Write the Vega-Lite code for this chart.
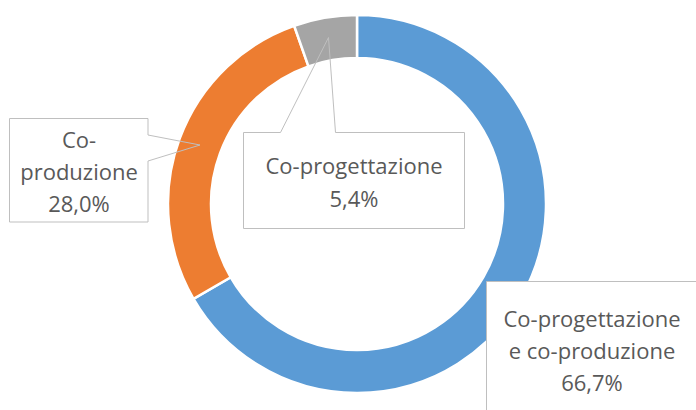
{
  "$schema": "https://vega.github.io/schema/vega-lite/v6.json",
  "width": 678,
  "height": 408,
  "autosize": {"type": "none"},
  "padding": {"left": 18, "top": 0, "right": 0, "bottom": 2},
  "background": "white",
  "config": {"view": {"stroke": null}},
  "data": {
    "values": [
      {"category": "Co-progettazione e co-produzione", "value": 66.7, "label": "Co-progettazione\ne co-produzione\n66,7%"},
      {"category": "Co-produzione", "value": 28.0, "label": "Co-\nproduzione\n28,0%"},
      {"category": "Co-progettazione", "value": 5.4, "label": "Co-progettazione\n5,4%"}
    ]
  },
  "layer": [
    {
      "mark": {"type": "arc", "outerRadius": 189, "innerRadius": 146, "stroke": "white", "strokeWidth": 2.5},
      "encoding": {
        "theta": {"field": "value", "type": "quantitative", "stack": true},
        "order": {"field": "value", "sort": "descending"},
        "color": {
          "field": "category",
          "type": "nominal",
          "scale": {
            "domain": ["Co-progettazione e co-produzione", "Co-produzione", "Co-progettazione"],
            "range": ["#5B9BD5", "#ED7D31", "#A5A5A5"]
          },
          "legend": null
        }
      }
    },
    {
      "mark": {"type": "point", "size": 4, "filled": true, "fill": "white", "strokeWidth": 0, "opacity": 1},
      "encoding": {
        "shape": {
          "field": "category",
          "type": "nominal",
          "scale": {
            "domain": ["Co-progettazione e co-produzione", "Co-produzione", "Co-progettazione"],
            "range": [
              "M129.5,77.5H360V220H129.5Z",
              "M-347.5,-85.5H-209V18H-347.5Z",
              "M-113.5,-71.5H107.5V24.5H-113.5Z"
            ]
          },
          "legend": null
        }
      }
    },
    {
      "mark": {"type": "point", "size": 4, "filled": false, "fill": null, "stroke": "#BFBFBF", "strokeWidth": 1, "opacity": 1},
      "encoding": {
        "shape": {
          "field": "category",
          "type": "nominal",
          "scale": {
            "domain": ["Co-progettazione e co-produzione", "Co-produzione", "Co-progettazione"],
            "range": [
              "M360,77.5H129.5V220",
              "M-347.5,-85.5H-209V-69L-157,-59L-209,-43V18H-347.5Z",
              "M-113.5,-71.5H-76.5L-28.5,-166.5L-21.5,-71.5H107.5V24.5H-113.5Z"
            ]
          },
          "legend": null
        }
      }
    },
    {
      "transform": [{"filter": "datum.category === 'Co-produzione'"}],
      "mark": {"type": "text", "font": "Open Sans", "fontSize": 22, "color": "#595959", "lineBreak": "\n", "lineHeight": 32, "align": "center", "baseline": "middle", "dx": -278, "dy": -63},
      "encoding": {"text": {"field": "label"}}
    },
    {
      "transform": [{"filter": "datum.category === 'Co-progettazione'"}],
      "mark": {"type": "text", "font": "Open Sans", "fontSize": 22, "color": "#595959", "lineBreak": "\n", "lineHeight": 33, "align": "center", "baseline": "middle", "dx": -3, "dy": -37},
      "encoding": {"text": {"field": "label"}}
    },
    {
      "transform": [{"filter": "datum.category === 'Co-progettazione e co-produzione'"}],
      "mark": {"type": "text", "font": "Open Sans", "fontSize": 22, "color": "#595959", "lineBreak": "\n", "lineHeight": 32, "align": "center", "baseline": "middle", "dx": 235, "dy": 116},
      "encoding": {"text": {"field": "label"}}
    }
  ],
  "resolve": {"scale": {"shape": "independent"}}
}
